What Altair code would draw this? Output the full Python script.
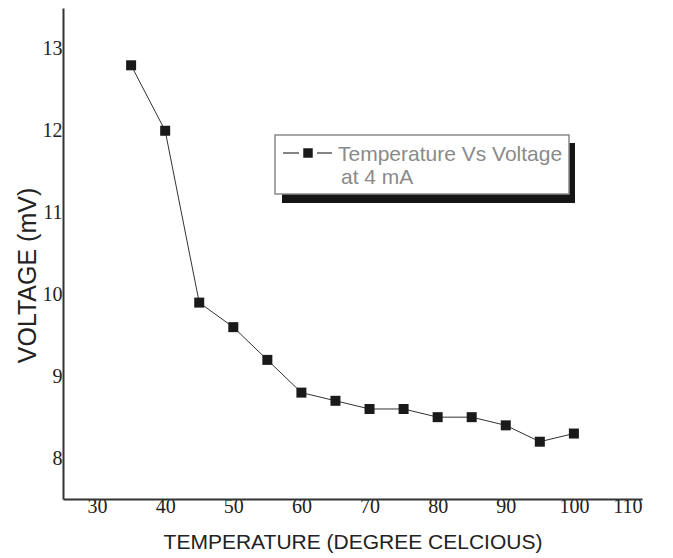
import altair as alt
import pandas as pd

temperature = [35, 40, 45, 50, 55, 60, 65, 70, 75, 80, 85, 90, 95, 100]
voltage = [12.8, 12.0, 9.9, 9.6, 9.2, 8.8, 8.7, 8.6, 8.6, 8.5, 8.5, 8.4, 8.2, 8.3]
x_ticks = [30, 40, 50, 60, 70, 80, 90, 100, 110]
y_ticks = [8, 9, 10, 11, 12, 13]
legend_line1 = "Temperature Vs Voltage"
legend_line2 = "at 4 mA"

df = pd.DataFrame({"temp": temperature, "volt": voltage})

W, H = 579, 491

xs = alt.Scale(domain=[25, 110], nice=False, zero=False)
ys = alt.Scale(domain=[7.5, 13.5], nice=False, zero=False)

base = alt.Chart(df).encode(
    x=alt.X("temp:Q", scale=xs,
            axis=alt.Axis(values=x_ticks, title="TEMPERATURE (DEGREE CELCIOUS)",
                          labelPadding=-3, titleBaseline="alphabetic", titleY=49)),
    y=alt.Y("volt:Q", scale=ys,
            axis=alt.Axis(values=y_ticks, title="VOLTAGE (mV)", labelPadding=1,
                          titleAngle=270, titleX=-28, titleY=267,
                          titleBaseline="alphabetic", titleAlign="center",
                          titleFontSize=25)),
)

line = base.mark_line(color="#333333", strokeWidth=1)
pts = base.mark_point(shape="square", filled=True, size=100, color="#1a1a1a", opacity=1)

one = alt.Data(values=[{"k": 1}])

shadow = alt.Chart(one).mark_rect(color="#151515").encode(
    x=alt.value(219), x2=alt.value(512), y=alt.value(135), y2=alt.value(195))
box = alt.Chart(one).mark_rect(fill="white", stroke="#8a8a8a", strokeWidth=1.5).encode(
    x=alt.value(212), x2=alt.value(506), y=alt.value(127), y2=alt.value(186))
sym_line_l = alt.Chart(one).mark_rule(color="#333333", strokeWidth=1.2).encode(
    x=alt.value(220), x2=alt.value(236), y=alt.value(145))
sym_line_r = alt.Chart(one).mark_rule(color="#333333", strokeWidth=1.2).encode(
    x=alt.value(254), x2=alt.value(269), y=alt.value(145))
sym_pt = alt.Chart(one).mark_point(shape="square", filled=True, size=90, color="#1a1a1a", opacity=1).encode(
    x=alt.value(245), y=alt.value(145))
t1 = alt.Chart(one).mark_text(text=legend_line1, align="left", baseline="alphabetic",
                              font="Liberation Sans", fontSize=21, color="#8a8a8a").encode(
    x=alt.value(275), y=alt.value(153))
t2 = alt.Chart(one).mark_text(text=legend_line2, align="left", baseline="alphabetic",
                              font="Liberation Sans", fontSize=21, color="#8a8a8a").encode(
    x=alt.value(278), y=alt.value(176))

chart = alt.layer(line, pts, shadow, box, sym_line_l, sym_line_r, sym_pt, t1, t2).properties(
    width=W, height=H,
    autosize=alt.AutoSizeParams(type="none"),
    padding={"left": 63, "top": 8, "right": 31, "bottom": 59},
).configure_view(stroke=None).configure_axis(
    domainColor="#333333", domainWidth=2, ticks=False, grid=False,
    labelFont="Liberation Serif", labelFontSize=20, labelColor="#222222",
    titleFont="Liberation Sans", titleFontSize=21, titleFontWeight="normal",
    titleColor="#222222",
)

chart.save("out.html", embed_options={"renderer": "svg", "actions": False})
